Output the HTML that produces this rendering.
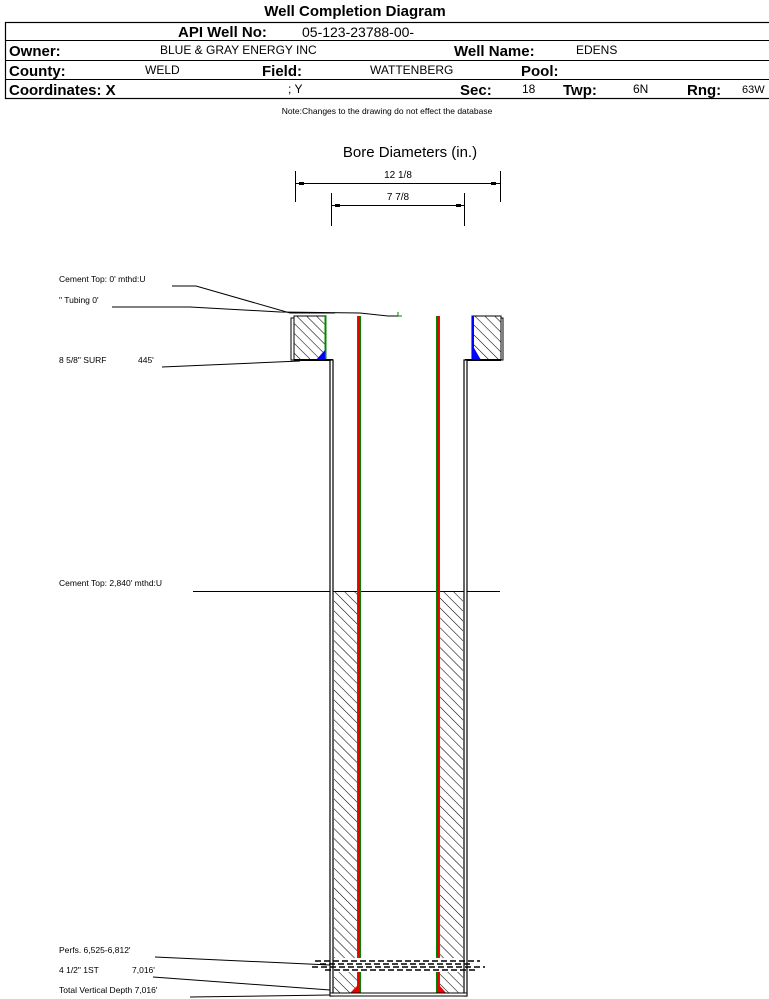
<!DOCTYPE html>
<html><head><meta charset="utf-8"><style>
html,body{margin:0;padding:0;background:#fff;width:769px;height:999px;overflow:hidden}
svg text{font-family:"Liberation Sans",Arial,sans-serif}
</style></head><body>
<svg width="769" height="999" viewBox="0 0 769 999" xmlns="http://www.w3.org/2000/svg">
<defs>
<pattern id="h" patternUnits="userSpaceOnUse" width="7" height="7" patternTransform="rotate(-45)">
<line x1="0" y1="0" x2="0" y2="7" stroke="#000" stroke-width="1.1"/>
</pattern>
</defs>
<text x="355" y="16" font-size="15" font-weight="bold" text-anchor="middle">Well Completion Diagram</text>
<rect x="5.5" y="22.5" width="770" height="76" fill="none" stroke="#000" stroke-width="1.2"/>
<line x1="5" y1="40.5" x2="769" y2="40.5" stroke="#000"/>
<line x1="5" y1="60.5" x2="769" y2="60.5" stroke="#000"/>
<line x1="5" y1="79.5" x2="769" y2="79.5" stroke="#000"/>
<g font-size="15" font-weight="bold">
<text x="178" y="37">API Well No:</text>
<text x="9" y="56">Owner:</text>
<text x="454" y="56">Well Name:</text>
<text x="9" y="76">County:</text>
<text x="262" y="76">Field:</text>
<text x="521" y="76">Pool:</text>
<text x="9" y="95">Coordinates: X</text>
<text x="460" y="95">Sec:</text>
<text x="563" y="95">Twp:</text>
<text x="687" y="95">Rng:</text>
</g>
<g font-size="12">
<text x="302" y="37" font-size="14">05-123-23788-00-</text>
<text x="160" y="54">BLUE &amp; GRAY ENERGY INC</text>
<text x="576" y="54">EDENS</text>
<text x="145" y="74">WELD</text>
<text x="370" y="74">WATTENBERG</text>
<text x="288" y="93">; Y</text>
<text x="522" y="93">18</text>
<text x="633" y="93">6N</text>
<text x="742" y="93" font-size="11">63W</text>
</g>
<text x="387" y="114" font-size="8.5" text-anchor="middle">Note:Changes to the drawing do not effect the database</text>

<text x="410" y="157" font-size="15" text-anchor="middle">Bore Diameters (in.)</text>
<g stroke="#000" stroke-width="1">
<line x1="295.5" y1="171" x2="295.5" y2="202"/>
<line x1="500.5" y1="171" x2="500.5" y2="202"/>
<line x1="296" y1="183.5" x2="500" y2="183.5"/>
<line x1="331.5" y1="193" x2="331.5" y2="226"/>
<line x1="464.5" y1="193" x2="464.5" y2="226"/>
<line x1="332" y1="205.5" x2="464" y2="205.5"/>
</g>
<g fill="#000">
<rect x="299" y="182" width="5" height="3"/><rect x="491" y="182" width="5" height="3"/>
<rect x="335" y="204" width="5" height="3"/><rect x="456" y="204" width="5" height="3"/>
</g>
<text x="398" y="178" font-size="10" text-anchor="middle">12 1/8</text>
<text x="398" y="200" font-size="10" text-anchor="middle">7 7/8</text>

<g font-size="8.5">
<text x="59" y="282">Cement Top: 0' mthd:U</text>
<text x="59" y="303">" Tubing 0'</text>
<text x="59" y="363">8 5/8" SURF</text>
<text x="138" y="363">445'</text>
<text x="59" y="586">Cement Top: 2,840' mthd:U</text>
<text x="59" y="953">Perfs. 6,525-6,812'</text>
<text x="59" y="973">4 1/2" 1ST</text>
<text x="132" y="973">7,016'</text>
<text x="59" y="993">Total Vertical Depth 7,016'</text>
</g>
<g stroke="#000" stroke-width="1" fill="none">
<polyline points="172,286 196,286 290,313 335,313"/>
<polyline points="112,307 190,307 280,312 360,313 388,316 400,316"/>
<line x1="162" y1="367" x2="300" y2="361"/>
<line x1="193" y1="591.5" x2="500" y2="591.5"/>
<line x1="155" y1="957" x2="330" y2="965"/>
<line x1="153" y1="977" x2="330" y2="990"/>
<line x1="190" y1="997" x2="330" y2="995"/>
</g>

<rect x="294" y="316" width="32" height="44" fill="url(#h)" stroke="#000"/>
<rect x="291" y="318" width="3" height="42" fill="#fff" stroke="#000" stroke-width="1"/>
<rect x="472" y="316" width="29" height="44" fill="url(#h)" stroke="#000"/>
<rect x="501" y="318" width="2" height="42" fill="#fff" stroke="#000" stroke-width="1"/>
<line x1="325.5" y1="316" x2="325.5" y2="360" stroke="#080" stroke-width="2"/>
<line x1="473" y1="316" x2="473" y2="360" stroke="#00f" stroke-width="2"/>
<polygon points="316,360 325,350 325,360" fill="#00f"/>
<polygon points="474,348 474,360 481,360" fill="#00f"/>
<line x1="294" y1="360" x2="333" y2="360" stroke="#000" stroke-width="2"/>
<line x1="465" y1="360" x2="501" y2="360" stroke="#000" stroke-width="2"/>

<rect x="330" y="360" width="3" height="636" fill="#fff" stroke="#000" stroke-width="1.2"/>
<rect x="464" y="360" width="3" height="636" fill="#fff" stroke="#000" stroke-width="1.2"/>
<rect x="334" y="591" width="23" height="404" fill="url(#h)"/>
<rect x="440" y="591" width="23" height="404" fill="url(#h)"/>
<rect x="357" y="316" width="4" height="679" fill="#080"/>
<rect x="358" y="316" width="2" height="679" fill="#e00"/>
<rect x="436" y="316" width="4" height="679" fill="#080"/>
<rect x="437" y="316" width="2" height="679" fill="#e00"/>
<polygon points="348,995 358,985 358,995" fill="#e00"/>
<polygon points="439,985 439,995 448,995" fill="#e00"/>
<line x1="398" y1="312" x2="398" y2="316" stroke="#080"/>
<line x1="398" y1="316" x2="402" y2="316" stroke="#080"/>
<rect x="334" y="958" width="129" height="14" fill="#fff"/>
<g stroke="#000" stroke-width="1.5" stroke-dasharray="6 3">
<line x1="315" y1="961" x2="480" y2="961"/>
<line x1="320" y1="964" x2="470" y2="964"/>
<line x1="312" y1="967" x2="485" y2="967"/>
<line x1="325" y1="970" x2="475" y2="970"/>
</g>
<rect x="330" y="993" width="137" height="3" fill="#fff" stroke="#000" stroke-width="1"/>
</svg>
</body></html>
